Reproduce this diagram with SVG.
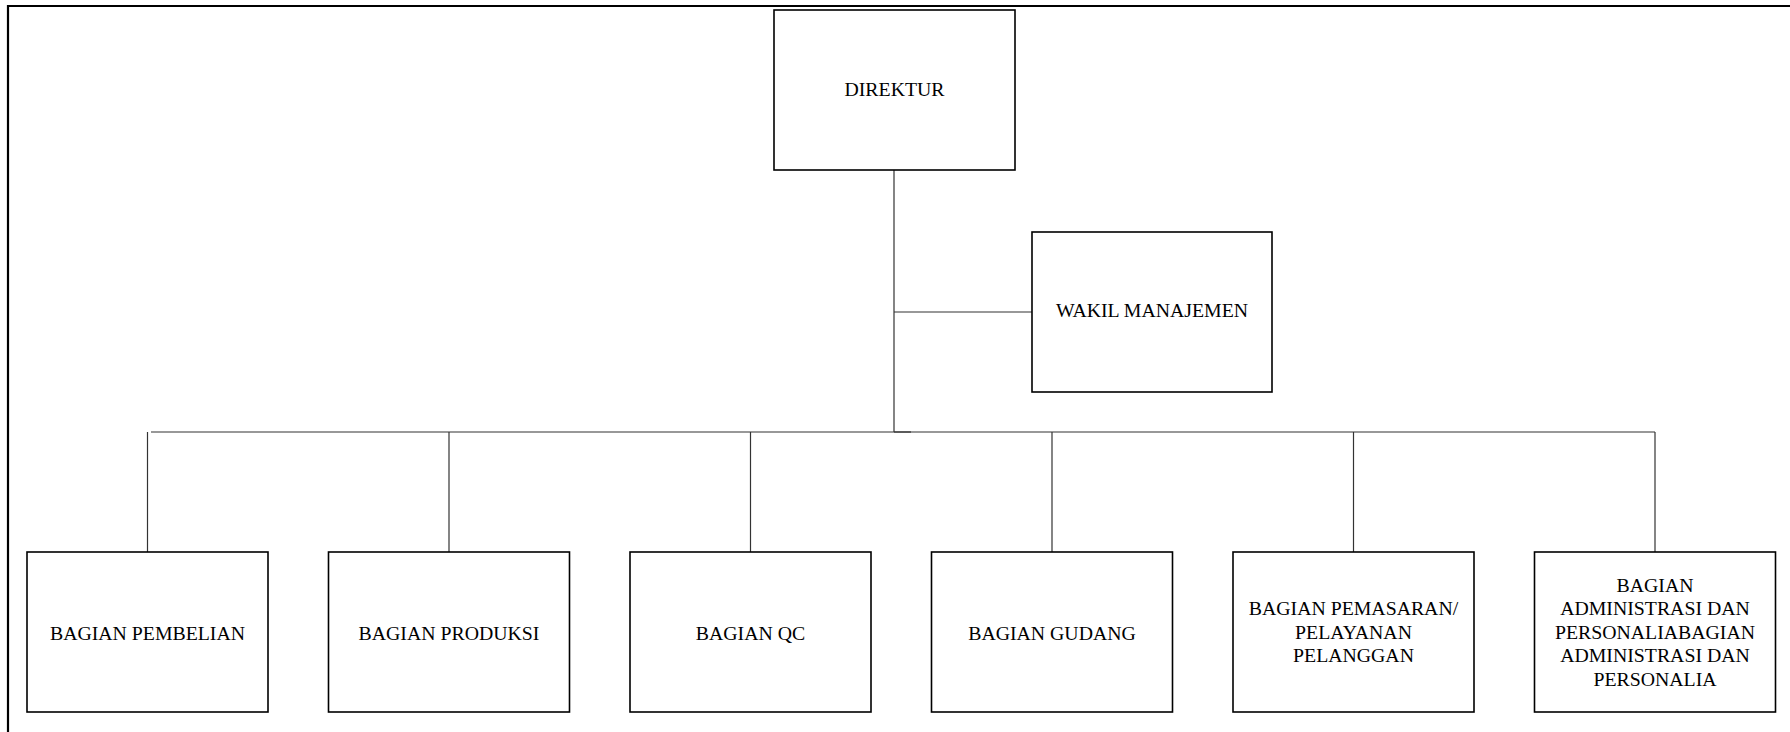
<svg xmlns="http://www.w3.org/2000/svg" width="1790" height="732" viewBox="0 0 1790 732">
  <style>
    .box { fill: #ffffff; stroke: #000000; stroke-width: 1.6; }
    .lbl { font-family: "Liberation Serif", "Times New Roman", serif; font-size: 19.8px; fill: #000000; text-anchor: middle; }
    .wire { stroke: #333333; stroke-width: 1.2; fill: none; }
    .frame { stroke: #000000; stroke-width: 2.2; fill: none; }
  </style>
  <rect width="1790" height="732" fill="#ffffff"/>

  <!-- page frame: top and left edges -->
  <path class="frame" d="M8,732 V6 H1790"/>

  <g id="connectors">
    <!-- director trunk down to the department bus -->
    <line class="wire" x1="894" y1="170" x2="894" y2="432"/>
    <line class="wire" x1="894" y1="432" x2="911" y2="432" stroke-width="2"/>
    <!-- branch to management representative -->
    <line class="wire" x1="894" y1="312" x2="1032" y2="312"/>
    <!-- department bus -->
    <line class="wire" x1="151" y1="432" x2="1655" y2="432"/>
    <!-- drops to each department -->
    <line class="wire" x1="147.5" y1="432" x2="147.5" y2="552"/>
    <line class="wire" x1="449" y1="432" x2="449" y2="552"/>
    <line class="wire" x1="750.5" y1="432" x2="750.5" y2="552"/>
    <line class="wire" x1="1052" y1="432" x2="1052" y2="552"/>
    <line class="wire" x1="1353.5" y1="432" x2="1353.5" y2="552"/>
    <line class="wire" x1="1655" y1="432" x2="1655" y2="552"/>
  </g>

  <g id="direktur">
    <rect class="box" x="774" y="10" width="241" height="160"/>
    <text class="lbl" x="894.5" y="96">DIREKTUR</text>
  </g>

  <g id="wakil-manajemen">
    <rect class="box" x="1032" y="232" width="240" height="160"/>
    <text class="lbl" x="1152" y="317">WAKIL MANAJEMEN</text>
  </g>

  <g id="bagian-pembelian">
    <rect class="box" x="27" y="552" width="241" height="160"/>
    <text class="lbl" x="147.5" y="639.5">BAGIAN PEMBELIAN</text>
  </g>

  <g id="bagian-produksi">
    <rect class="box" x="328.5" y="552" width="241" height="160"/>
    <text class="lbl" x="449" y="639.5">BAGIAN PRODUKSI</text>
  </g>

  <g id="bagian-qc">
    <rect class="box" x="630" y="552" width="241" height="160"/>
    <text class="lbl" x="750.5" y="639.5">BAGIAN QC</text>
  </g>

  <g id="bagian-gudang">
    <rect class="box" x="931.5" y="552" width="241" height="160"/>
    <text class="lbl" x="1052" y="639.5">BAGIAN GUDANG</text>
  </g>

  <g id="bagian-pemasaran">
    <rect class="box" x="1233" y="552" width="241" height="160"/>
    <text class="lbl" x="1353.5" y="615">BAGIAN PEMASARAN/</text>
    <text class="lbl" x="1353.5" y="638.5">PELAYANAN</text>
    <text class="lbl" x="1353.5" y="662">PELANGGAN</text>
  </g>

  <g id="bagian-administrasi">
    <rect class="box" x="1534.5" y="552" width="241" height="160"/>
    <text class="lbl" x="1655" y="591.5">BAGIAN</text>
    <text class="lbl" x="1655" y="615">ADMINISTRASI DAN</text>
    <text class="lbl" x="1655" y="638.5">PERSONALIABAGIAN</text>
    <text class="lbl" x="1655" y="662">ADMINISTRASI DAN</text>
    <text class="lbl" x="1655" y="685.5">PERSONALIA</text>
  </g>
</svg>
